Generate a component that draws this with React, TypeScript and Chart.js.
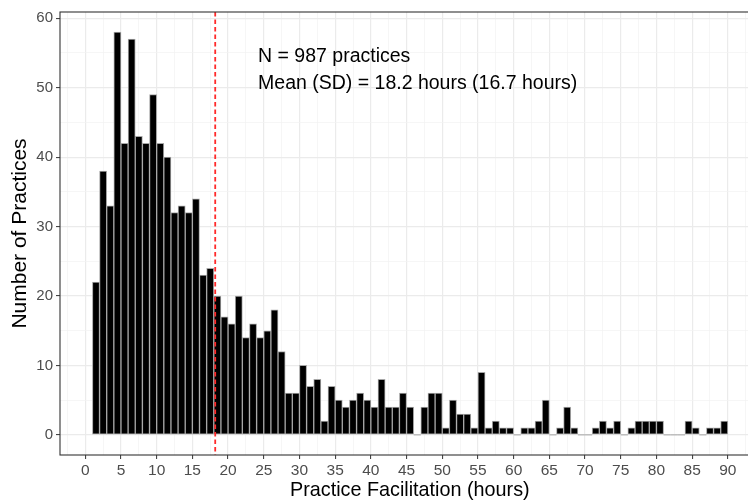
import React, { useEffect, useRef } from "react";
import { Chart, registerables } from "chart.js";

Chart.register(...registerables);

// Histogram bins: each bin covers [start, start + 1) hours
const binStarts: number[] = [
  1, 2, 3, 4, 5, 6, 7, 8, 9, 10, 11, 12, 13, 14, 15, 16, 17, 18, 19, 20,
  21, 22, 23, 24, 25, 26, 27, 28, 29, 30, 31, 32, 33, 34, 35, 36, 37, 38, 39, 40,
  41, 42, 43, 44, 45, 46, 47, 48, 49, 50, 51, 52, 53, 54, 55, 56, 57, 58, 59, 60,
  61, 62, 63, 64, 65, 66, 67, 68, 69, 70, 71, 72, 73, 74, 75, 76, 77, 78, 79, 80,
  81, 82, 83, 84, 85, 86, 87, 88, 89,
];
const counts: number[] = [
  22, 38, 33, 58, 42, 57, 43, 42, 49, 42, 40, 32, 33, 32, 34, 23, 24, 20, 17, 16,
  20, 14, 16, 14, 15, 18, 12, 6, 6, 10, 7, 8, 2, 7, 5, 4, 5, 6, 5, 4,
  8, 4, 4, 6, 4, 0, 4, 6, 6, 1, 5, 3, 3, 1, 9, 1, 2, 1, 1, 0,
  1, 1, 2, 5, 0, 1, 4, 1, 0, 0, 1, 2, 1, 2, 0, 1, 2, 2, 2, 2,
  0, 0, 0, 2, 1, 0, 1, 1, 2,
];
const xTickLabels: number[] = [0, 5, 10, 15, 20, 25, 30, 35, 40, 45, 50, 55, 60, 65, 70, 75, 80, 85, 90];
const yTickLabels: number[] = [0, 10, 20, 30, 40, 50, 60];
const meanHours = 18.2;
const annotationLines: string[] = ["N = 987 practices", "Mean (SD) = 18.2 hours (16.7 hours)"];
const xTitle = "Practice Facilitation (hours)";
const yTitle = "Number of Practices";

const FONT = "'Liberation Sans', Arial, Helvetica, sans-serif";

export default function App() {
  const ref = useRef<HTMLCanvasElement | null>(null);

  useEffect(() => {
    if (!ref.current) return;
    const isMajorX = (v: number) => xTickLabels.includes(v);
    const isMajorY = (v: number) => yTickLabels.includes(v);

    const overlay = {
      id: "overlay",
      beforeDatasetsDraw(chart: any) {
        // zero-height bins drawn as thin outlines on the baseline (as in the source)
        const { ctx, scales } = chart;
        ctx.save();
        ctx.strokeStyle = "#A6A6A6";
        ctx.lineWidth = 1;
        const y0 = scales.y.getPixelForValue(0);
        binStarts.forEach((s, i) => {
          if (counts[i] === 0) {
            ctx.beginPath();
            ctx.moveTo(scales.x.getPixelForValue(s), y0);
            ctx.lineTo(scales.x.getPixelForValue(s + 1), y0);
            ctx.stroke();
          }
        });
        ctx.restore();
      },
      afterDatasetsDraw(chart: any) {
        const { ctx, chartArea, scales } = chart;
        ctx.save();
        // mean line
        const xm = scales.x.getPixelForValue(meanHours);
        ctx.strokeStyle = "#FF2A2A";
        ctx.lineWidth = 1.8;
        ctx.setLineDash([4.5, 3]);
        ctx.beginPath();
        ctx.moveTo(xm, chartArea.top);
        ctx.lineTo(xm, chartArea.bottom);
        ctx.stroke();
        ctx.setLineDash([]);
        // annotation text
        ctx.fillStyle = "#000000";
        ctx.font = `19.5px ${FONT}`;
        ctx.textAlign = "left";
        ctx.textBaseline = "alphabetic";
        const tx = scales.x.getPixelForValue(24.2);
        ctx.fillText(annotationLines[0], tx, scales.y.getPixelForValue(53.7));
        ctx.fillText(annotationLines[1], tx, scales.y.getPixelForValue(49.8));
        // panel border
        ctx.strokeStyle = "#333333";
        ctx.lineWidth = 1.1;
        ctx.strokeRect(chartArea.left, chartArea.top, chartArea.right - chartArea.left, chartArea.bottom - chartArea.top);
        ctx.restore();
      },
    };

    const chart = new Chart(ref.current, {
      type: "bar",
      data: {
        datasets: [
          {
            data: binStarts.map((s, i) => ({ x: s + 0.5, y: counts[i] })),
            backgroundColor: "#000000",
            borderColor: "#A6A6A6",
            borderWidth: 1,
            borderSkipped: false,
            barPercentage: 1,
            categoryPercentage: 1,
          },
        ],
      },
      options: {
        responsive: false,
        animation: false,
        layout: { padding: { top: 7, right: 2.4, left: 0, bottom: 0 } },
        plugins: { legend: { display: false }, tooltip: { enabled: false } },
        scales: {
          x: {
            type: "linear",
            offset: false,
            min: -3.54,
            max: 94.45,
            afterBuildTicks: (scale: any) => {
              const t: any[] = [];
              for (let v = -2.5; v <= 92.5; v += 2.5) t.push({ value: v });
              scale.ticks = t;
            },
            afterFit: (scale: any) => {
              scale.height = 49;
              scale.paddingLeft = 0;
              scale.paddingRight = 0;
            },
            ticks: {
              autoSkip: false,
              maxRotation: 0,
              padding: 2,
              color: "#4D4D4D",
              font: { family: FONT, size: 15.5 },
              callback: (v: any) => (isMajorX(Number(v)) ? String(v) : ""),
            },
            grid: {
              offset: false,
              color: (c: any) => (isMajorX(c.tick?.value) ? "#EBEBEB" : "#F2F2F2"),
              lineWidth: (c: any) => (isMajorX(c.tick?.value) ? 1.2 : 0.7),
              drawTicks: true,
              tickLength: 4,
              tickColor: (c: any) => (isMajorX(c.tick?.value) ? "#333333" : "rgba(0,0,0,0)"),
              tickWidth: 1,
            },
            border: { display: false },
            title: {
              display: true,
              text: xTitle,
              color: "#000000",
              font: { family: FONT, size: 19.8 },
              padding: { top: 0, bottom: 2 },
            },
          },
          y: {
            type: "linear",
            min: -2.9,
            max: 60.9,
            afterBuildTicks: (scale: any) => {
              const t: any[] = [];
              for (let v = 0; v <= 60; v += 5) t.push({ value: v });
              scale.ticks = t;
            },
            afterFit: (scale: any) => {
              scale.width = 60;
            },
            ticks: {
              autoSkip: false,
              padding: 3,
              color: "#4D4D4D",
              font: { family: FONT, size: 15 },
              callback: (v: any) => (isMajorY(Number(v)) ? String(v) : ""),
            },
            grid: {
              color: (c: any) => (isMajorY(c.tick?.value) ? "#EBEBEB" : "#F2F2F2"),
              lineWidth: (c: any) => (isMajorY(c.tick?.value) ? 1.2 : 0.7),
              drawTicks: true,
              tickLength: 4,
              tickColor: (c: any) => (isMajorY(c.tick?.value) ? "#333333" : "rgba(0,0,0,0)"),
              tickWidth: 1,
            },
            border: { display: false },
            title: {
              display: true,
              text: yTitle,
              color: "#000000",
              font: { family: FONT, size: 21 },
              padding: { top: 8, bottom: 0 },
            },
          },
        },
      },
      plugins: [overlay],
    } as any);

    return () => chart.destroy();
  }, []);

  return (
    <div
      style={{
        position: "fixed",
        left: 0,
        top: 0,
        width: 748,
        height: 504,
        overflow: "hidden",
        background: "#ffffff",
      }}
    >
      <div style={{ width: 762, height: 504, position: "relative" }}>
        <canvas ref={ref} width={762} height={504} style={{ display: "block", width: 762, height: 504 }} />
      </div>
    </div>
  );
}
